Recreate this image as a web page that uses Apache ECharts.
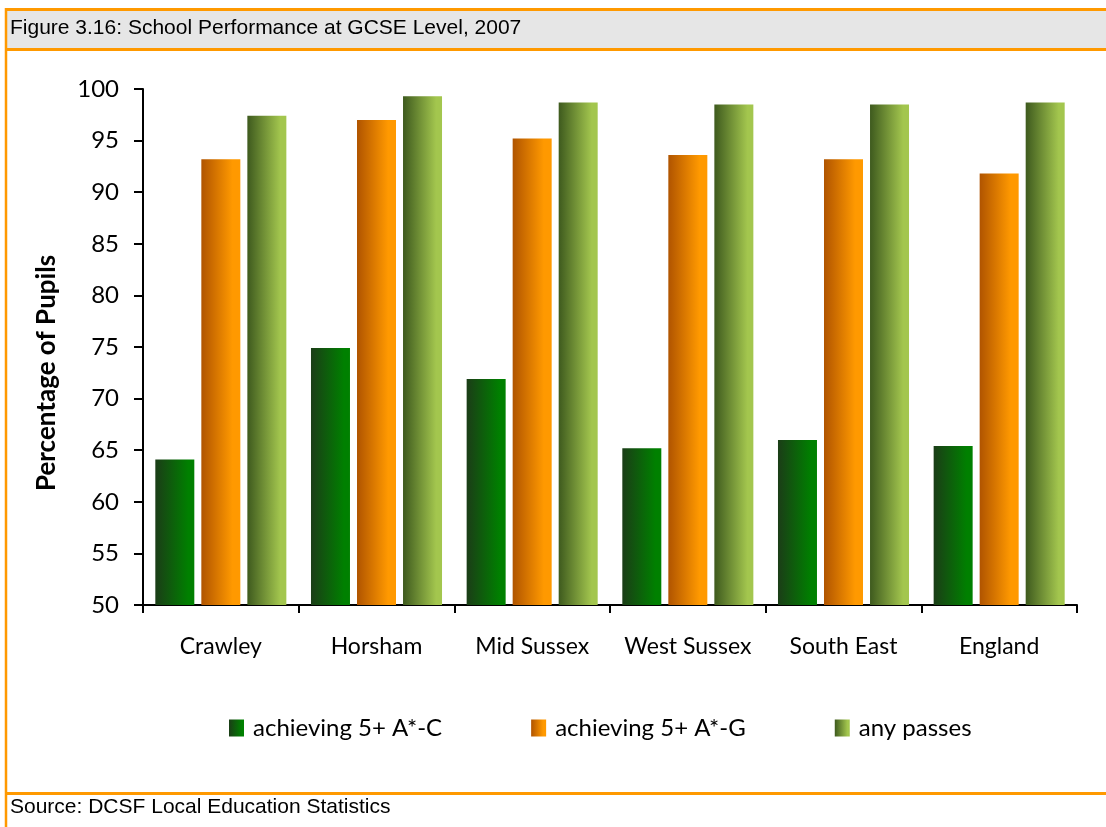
<!DOCTYPE html>
<html><head><meta charset="utf-8">
<script src="https://cdn.jsdelivr.net/npm/echarts@6/dist/echarts.min.js"></script>
<style>html,body{margin:0;padding:0;background:#fff}#c{width:1106px;height:827px}</style>
</head><body><div id="c"></div>
<script>
const categories = ['Crawley','Horsham','Mid Sussex','West Sussex','South East','England'];
const seriesNames = ['achieving 5+ A*-C','achieving 5+ A*-G','any passes'];
const valuesAC = [64.1, 74.9, 71.9, 65.2, 66.0, 65.4];
const valuesAG = [93.2, 97.0, 95.2, 93.6, 93.2, 91.8];
const valuesAny = [97.4, 99.3, 98.7, 98.5, 98.5, 98.7];
const yTicks = [50,55,60,65,70,75,80,85,90,95,100];

function grad(a,b,mid){
  return new echarts.graphic.LinearGradient(0,0,1,0,[
    {offset:0,color:a},{offset:mid,color:b},{offset:1,color:b}]);
}
const colAC = grad('#1b3d17','#008000',0.85);
const colAG = grad('#b05400','#ff9900',0.8);
const colAny = grad('#3e5a1e','#a3c64e',0.85);
const font = 'Lato, "Open Sans", sans-serif';
const arial = '"Liberation Sans", Arial, sans-serif';

const chart = echarts.init(document.getElementById('c'), null, {renderer:'canvas'});
const mk = (name, data, color) => ({
  name, type:'bar', data, barWidth:39, barGap:'18%',
  itemStyle:{color}, emphasis:{disabled:true}
});
chart.setOption({
  animation:false,
  backgroundColor:'#fff',
  graphic:[
    {type:'rect', shape:{x:5,y:9,width:1101,height:40}, style:{fill:'#e6e6e6'}},
    {type:'line', shape:{x1:5,y1:9.5,x2:1106,y2:9.5}, style:{stroke:'#ff9900',lineWidth:3}},
    {type:'line', shape:{x1:5,y1:49.5,x2:1106,y2:49.5}, style:{stroke:'#ff9900',lineWidth:3}},
    {type:'line', shape:{x1:6,y1:8,x2:6,y2:827}, style:{stroke:'#ff9900',lineWidth:2.5}},
    {type:'line', shape:{x1:5,y1:793.5,x2:1106,y2:793.5}, style:{stroke:'#ff9900',lineWidth:3}},
    {type:'text', x:10, y:28, style:{text:'Figure 3.16: School Performance at GCSE Level, 2007', font:'21px '+arial, fill:'#000', textVerticalAlign:'middle'}},
    {type:'text', x:10, y:807, style:{text:'Source: DCSF Local Education Statistics', font:'21px '+arial, fill:'#000', textVerticalAlign:'middle'}},
    {type:'text', x:47, y:373, rotation:Math.PI/2, style:{text:'Percentage of Pupils', font:'bold 26px '+font, fill:'#000', textAlign:'center', textVerticalAlign:'middle'}}
  ],
  grid:{left:143, right:29, top:89, bottom:222, containLabel:false},
  legend:{
    data:seriesNames, top:711, left:224, itemWidth:15, itemHeight:17, itemGap:89,
    icon:'rect', textStyle:{fontFamily:font, fontSize:24, color:'#000', padding:[0,0,0,4]}
  },
  xAxis:{
    type:'category', data:categories,
    axisLine:{lineStyle:{color:'#000',width:2}},
    axisTick:{show:true, interval:0, length:8, lineStyle:{color:'#000',width:2}, alignWithLabel:false},
    axisLabel:{interval:0, fontFamily:font, fontSize:23, color:'#000', margin:30}
  },
  yAxis:{
    type:'value', min:50, max:100, interval:5,
    axisLine:{show:true, lineStyle:{color:'#000',width:2}},
    axisTick:{show:true, length:9, lineStyle:{color:'#000',width:2}},
    axisLabel:{fontFamily:font, fontSize:24, color:'#000', margin:24,
      formatter: v => yTicks.includes(v) ? String(v) : ''},
    splitLine:{show:false}
  },
  series:[mk(seriesNames[0], valuesAC, colAC), mk(seriesNames[1], valuesAG, colAG), mk(seriesNames[2], valuesAny, colAny)]
});
</script></body></html>
